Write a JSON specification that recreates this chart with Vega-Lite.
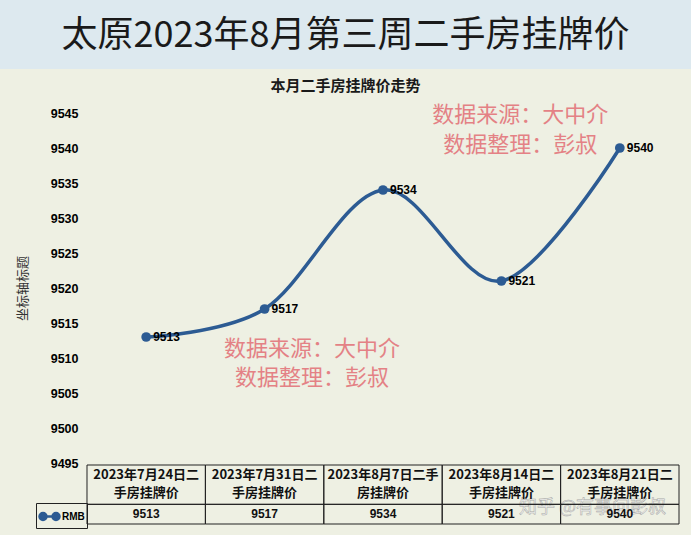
{
  "$schema": "https://vega.github.io/schema/vega-lite/v6.json",
  "width": 691,
  "height": 467,
  "padding": {"left": 0, "right": 0, "top": 18, "bottom": 0},
  "background": "#dde9ef",
  "title": {
    "text": "太原2023年8月第三周二手房挂牌价",
    "font": "Noto Sans CJK SC",
    "fontSize": 36,
    "fontWeight": "normal",
    "color": "#1a1a1a",
    "offset": 14,
    "anchor": "middle",
    "frame": "group"
  },
  "config": {
    "view": {"fill": "#eef0e3", "stroke": null},
    "font": "Noto Sans CJK SC"
  },
  "datasets": {
    "prices": [
      {"date": "2023-07-24", "header": "2023年7月24日二\n手房挂牌价", "price": 9513},
      {"date": "2023-07-31", "header": "2023年7月31日二\n手房挂牌价", "price": 9517},
      {"date": "2023-08-07", "header": "2023年8月7日二手\n房挂牌价", "price": 9534},
      {"date": "2023-08-14", "header": "2023年8月14日二\n手房挂牌价", "price": 9521},
      {"date": "2023-08-21", "header": "2023年8月21日二\n手房挂牌价", "price": 9540}
    ],
    "notes": [
      {"note": "数据来源：大中介", "px": 1.40, "py": 9511.3},
      {"note": "数据整理：彭叔", "px": 1.40, "py": 9507.1},
      {"note": "数据来源：大中介", "px": 3.16, "py": 9544.7},
      {"note": "数据整理：彭叔", "px": 3.16, "py": 9540.4}
    ],
    "marks": [
      {"mark": "知乎 @有事问彭叔", "px": 3.77, "py": 9488.6}
    ],
    "charttitle": [
      {"t": "本月二手房挂牌价走势"}
    ]
  },
  "resolve": {"scale": {"x": "independent", "y": "independent"}},
  "layer": [
    {
      "layer": [
        {
          "data": {"name": "prices"},
          "mark": {"type": "line", "interpolate": "cardinal", "strokeWidth": 3.5},
          "encoding": {
            "x": {"field": "date", "type": "nominal", "sort": null,
                  "scale": {"type": "band", "domain": ["2023-07-24", "2023-07-31", "2023-08-07", "2023-08-14", "2023-08-21"], "range": [87, 679], "paddingInner": 0, "paddingOuter": 0},
                  "axis": null},
            "y": {"field": "price", "type": "quantitative",
                  "scale": {"domain": [9495, 9545], "range": [394, 44], "zero": false, "nice": false},
                  "axis": {
                    "title": "坐标轴标题",
                    "values": [9495, 9500, 9505, 9510, 9515, 9520, 9525, 9530, 9535, 9540, 9545],
                    "format": "d",
                    "offset": -87,
                    "ticks": false,
                    "tickSize": 0,
                    "domain": false,
                    "grid": false,
                    "labelPadding": 9,
                    "labelFont": "Liberation Sans",
                    "labelFontWeight": "bold",
                    "labelFontSize": 12.5,
                    "labelColor": "#000000",
                    "titleFont": "Noto Sans CJK SC",
                    "titleFontSize": 13,
                    "titleFontWeight": "normal",
                    "titleColor": "#333333",
                    "titlePadding": 21
                  }},
            "color": {"datum": "RMB", "type": "nominal",
                      "scale": {"range": ["#2c5b93"]},
                      "legend": {
                        "orient": "none",
                        "legendX": 36,
                        "legendY": 434,
                        "title": null,
                        "strokeColor": "#222222",
                        "padding": 2,
                        "symbolType": "M-1,0A0.35,0.35 0 1,0 -0.3,0A0.35,0.35 0 1,0 -1,0ZM-0.3,0H0.3M0.3,0A0.35,0.35 0 1,0 1,0A0.35,0.35 0 1,0 0.3,0Z",
                        "symbolSize": 400,
                        "symbolStrokeWidth": 2.5,
                        "symbolFillColor": "#2c5b93",
                        "symbolStrokeColor": "#2c5b93",
                        "labelFont": "Liberation Sans",
                        "labelFontWeight": "bold",
                        "labelFontSize": 10,
                        "labelColor": "#000000",
                        "labelOffset": 1
                      }}
          }
        },
        {
          "data": {"name": "prices"},
          "mark": {"type": "point", "filled": true, "size": 95, "opacity": 1},
          "encoding": {
            "x": {"field": "date", "type": "nominal", "sort": null,
                  "scale": {"type": "band", "domain": ["2023-07-24", "2023-07-31", "2023-08-07", "2023-08-14", "2023-08-21"], "range": [87, 679], "paddingInner": 0, "paddingOuter": 0},
                  "axis": null},
            "y": {"field": "price", "type": "quantitative",
                  "scale": {"domain": [9495, 9545], "range": [394, 44], "zero": false, "nice": false}},
            "color": {"datum": "RMB", "type": "nominal"}
          }
        },
        {
          "data": {"name": "prices"},
          "mark": {"type": "text", "align": "left", "baseline": "middle", "dx": 7, "font": "Liberation Sans", "fontWeight": "bold", "fontSize": 12, "color": "#000000"},
          "encoding": {
            "x": {"field": "date", "type": "nominal", "sort": null,
                  "scale": {"type": "band", "domain": ["2023-07-24", "2023-07-31", "2023-08-07", "2023-08-14", "2023-08-21"], "range": [87, 679], "paddingInner": 0, "paddingOuter": 0},
                  "axis": null},
            "y": {"field": "price", "type": "quantitative",
                  "scale": {"domain": [9495, 9545], "range": [394, 44], "zero": false, "nice": false}},
            "text": {"field": "price", "type": "quantitative", "format": "d"}
          }
        },
        {
          "data": {"name": "charttitle"},
          "mark": {"type": "text", "align": "center", "baseline": "middle", "font": "Noto Sans CJK SC", "fontWeight": "bold", "fontSize": 15, "color": "#1a1a1a"},
          "encoding": {
            "y": {"datum": 9548.9, "type": "quantitative",
                  "scale": {"domain": [9495, 9545], "range": [394, 44], "zero": false, "nice": false}},
            "text": {"field": "t"}
          }
        }
      ]
    },
    {
      "layer": [
        {
          "data": {"name": "notes"},
          "mark": {"type": "text", "align": "center", "baseline": "middle", "font": "Noto Sans CJK SC", "fontSize": 22, "color": "#e3767b", "opacity": 0.9},
          "encoding": {
            "x": {"field": "px", "type": "quantitative", "scale": {"domain": [-0.5, 4.5], "range": [87, 679], "zero": false, "nice": false}, "axis": null},
            "y": {"field": "py", "type": "quantitative", "scale": {"domain": [9495, 9545], "range": [394, 44], "zero": false, "nice": false}, "axis": null},
            "text": {"field": "note"}
          }
        },
        {
          "data": {"name": "marks"},
          "mark": {"type": "text", "align": "center", "baseline": "middle", "font": "Noto Sans CJK SC", "fontSize": 18, "fill": "#f4f4f4", "stroke": "#9a9a9a", "strokeWidth": 0.5, "opacity": 0.85},
          "encoding": {
            "x": {"field": "px", "type": "quantitative", "scale": {"domain": [-0.5, 4.5], "range": [87, 679], "zero": false, "nice": false}, "axis": null},
            "y": {"field": "py", "type": "quantitative", "scale": {"domain": [9495, 9545], "range": [394, 44], "zero": false, "nice": false}, "axis": null},
            "text": {"field": "mark"}
          }
        }
      ]
    },
    {
      "data": {"name": "prices"},
      "layer": [
        {
          "mark": {"type": "rect", "fill": null, "fillOpacity": 0, "stroke": "#222222", "strokeWidth": 1},
          "encoding": {
            "x": {"field": "date", "type": "nominal", "sort": null,
                  "scale": {"type": "band", "domain": ["2023-07-24", "2023-07-31", "2023-08-07", "2023-08-14", "2023-08-21"], "range": [87, 679], "paddingInner": 0, "paddingOuter": 0},
                  "axis": null},
            "y": {"datum": 0, "type": "quantitative", "scale": {"domain": [0, 3], "range": [396, 455], "zero": false, "nice": false}, "axis": null},
            "y2": {"datum": 2}
          }
        },
        {
          "mark": {"type": "rect", "fill": null, "fillOpacity": 0, "stroke": "#222222", "strokeWidth": 1},
          "encoding": {
            "x": {"field": "date", "type": "nominal", "sort": null,
                  "scale": {"type": "band", "domain": ["2023-07-24", "2023-07-31", "2023-08-07", "2023-08-14", "2023-08-21"], "range": [87, 679], "paddingInner": 0, "paddingOuter": 0},
                  "axis": null},
            "y": {"datum": 2, "type": "quantitative", "scale": {"domain": [0, 3], "range": [396, 455], "zero": false, "nice": false}, "axis": null},
            "y2": {"datum": 3}
          }
        },
        {
          "mark": {"type": "text", "align": "center", "baseline": "middle", "lineBreak": "\n", "lineHeight": 18, "font": "Noto Sans CJK SC", "fontWeight": "bold", "fontSize": 13, "color": "#111111"},
          "encoding": {
            "x": {"field": "date", "type": "nominal", "sort": null,
                  "scale": {"type": "band", "domain": ["2023-07-24", "2023-07-31", "2023-08-07", "2023-08-14", "2023-08-21"], "range": [87, 679], "paddingInner": 0, "paddingOuter": 0},
                  "axis": null},
            "y": {"datum": 0.52, "type": "quantitative", "scale": {"domain": [0, 3], "range": [396, 455], "zero": false, "nice": false}, "axis": null},
            "text": {"field": "header"}
          }
        },
        {
          "mark": {"type": "text", "align": "center", "baseline": "middle", "font": "Liberation Sans", "fontWeight": "bold", "fontSize": 12, "color": "#111111"},
          "encoding": {
            "x": {"field": "date", "type": "nominal", "sort": null,
                  "scale": {"type": "band", "domain": ["2023-07-24", "2023-07-31", "2023-08-07", "2023-08-14", "2023-08-21"], "range": [87, 679], "paddingInner": 0, "paddingOuter": 0},
                  "axis": null},
            "y": {"datum": 2.5, "type": "quantitative", "scale": {"domain": [0, 3], "range": [396, 455], "zero": false, "nice": false}, "axis": null},
            "text": {"field": "price", "type": "quantitative", "format": "d"}
          }
        }
      ]
    }
  ]
}
